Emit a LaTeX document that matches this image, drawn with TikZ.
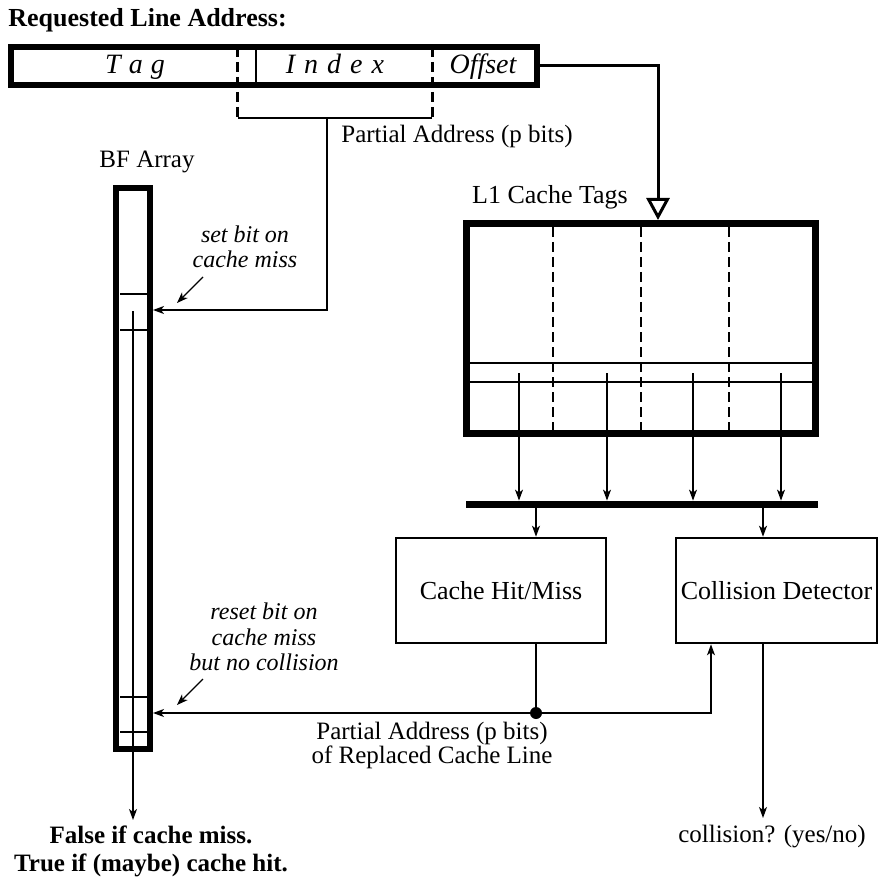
\documentclass[tikz,border=0pt]{standalone}
\usepackage{fontspec}
\setmainfont{Liberation Serif}
\usetikzlibrary{arrows.meta}

\begin{document}
\begin{tikzpicture}[x=0.5pt,y=-0.5pt,
    thinline/.style={line width=0.6pt},
    arr/.style={line width=0.6pt,-{Stealth[length=5.5pt,width=4pt,inset=1.5pt]}},
    unitbox/.style={draw,line width=1.3pt,inner sep=0pt,font=\fontsize{13}{15}\selectfont},
    heavybox/.style={draw,inner sep=0pt},
    lbl/.style={font=\fontsize{12.5}{14}\selectfont,inner sep=0pt},
    note/.style={font=\fontsize{12}{12.6}\selectfont\itshape,align=center,inner sep=0pt},
    field/.style={font=\fontsize{14}{16}\selectfont\itshape,inner sep=0pt,anchor=base},
    fieldsep/.style={line width=1.5pt,dash pattern=on 5pt off 2.5pt}]
  \useasboundingbox (0,0) rectangle (894,877);

  % address register
  \node[font=\fontsize{13}{15}\selectfont\bfseries,anchor=west,inner sep=0pt] (title) at (8,20) {Requested Line Address:};
  \node[heavybox,line width=3pt,minimum width=263pt,minimum height=19pt] (addr) at (274,66) {};
  \node[field] (tag) at (135,74) {T\kern4pt a\kern4pt g};
  \node[field] (index) at (335,74) {I\kern4.5pt n\kern4.5pt d\kern4.5pt e\kern4.5pt x};
  \node[field] (offset) at (483,74) {Offset};
  \draw[fieldsep] (237.5,47) -- (237.5,118);
  \draw[fieldsep] (432,47) -- (432,118);
  \draw[line width=1pt] (256,47) -- (256,85);
  \draw[thinline] (237.5,118) -- (432,118);
  \coordinate (pa) at (327,118);
  \node[lbl] (palbl) at (457,136) {Partial Address (p bits)};

  % BF array
  \node[lbl] (bflbl) at (147,162) {BF Array};
  \node[heavybox,line width=3pt,minimum width=17pt,minimum height=280.5pt] (bf) at (133,468.5) {};
  \foreach \y in {294,330,697,732}
    \draw[thinline] (120,\y) -- (148,\y);
  \draw[thinline] (133,311) -- (133,749);

  % L1 cache tags
  \node[lbl,font=\fontsize{13}{15}\selectfont] (tagslbl) at (550,197) {L1 Cache Tags};
  \node[heavybox,line width=3.5pt,minimum width=174.5pt,minimum height=105pt] (tags) at (641,328.5) {};
  \foreach \x in {553,641,729}
    \draw[thinline,dash pattern=on 5pt off 2.5pt] (\x,227) -- (\x,430);
  \draw[thinline] (470,363) -- (812,363);
  \draw[thinline] (470,382) -- (812,382);
  \draw[line width=1.5pt,-{Triangle[open,length=11pt,width=11.5pt,line width=1.5pt]}]
    (addr.east) -| ([xshift=8.5pt]tags.north);

  % bus and units
  \node[fill=black,inner sep=0pt,minimum width=176pt,minimum height=3.5pt] (bus) at (642,504.5) {};
  \foreach \x in {519,607,693,781}
    \draw[arr] (\x,373) -- (bus.north -| \x,0);
  \node[unitbox,minimum width=105pt,minimum height=52.5pt] (hit) at (501,590.5) {Cache Hit/Miss};
  \node[unitbox,minimum width=100.5pt,minimum height=52.5pt] (coll) at (776.5,590.5) {Collision Detector};
  \draw[arr] (bus.south -| 536,0) -- (hit.north -| 536,0);
  \draw[arr] (bus.south -| 763,0) -- (coll.north -| 763,0);

  % set path
  \draw[arr] (pa) |- (bf.east |- 0,310);
  \node[note] (setnote) at (245,247) {set bit on\\cache miss};
  \draw[arr] (203,277) -- (177,303);

  % reset path
  \node[circle,fill=black,inner sep=0pt,minimum size=6pt] (junc) at (536,713) {};
  \draw[thinline] (junc |- hit.south) -- (junc);
  \draw[arr] (junc) -- (bf.east |- junc);
  \draw[arr] (junc) -| (coll.south -| 711,0);
  \node[lbl,align=center,font=\fontsize{12.5}{12}\selectfont] (replbl) at (432,745) {Partial Address (p bits)\\of Replaced Cache Line};
  \node[note,font=\fontsize{12}{12.8}\selectfont\itshape] (resetnote) at (264,637) {reset bit on\\cache miss\\but no collision};
  \draw[arr] (203,679) -- (177,705);

  % outputs
  \node[lbl,align=center,font=\fontsize{12.5}{14}\selectfont\bfseries] (bfout) at (151,851) {False if cache miss.\\True if (maybe) cache hit.};
  \draw[arr] (bf.south) -- (bf.south |- 0,820);
  \node[lbl] (collout) at (772,837) {collision? (yes/no)};
  \draw[arr] (coll.south -| 763,0) -- (763,818);
\end{tikzpicture}
\end{document}
